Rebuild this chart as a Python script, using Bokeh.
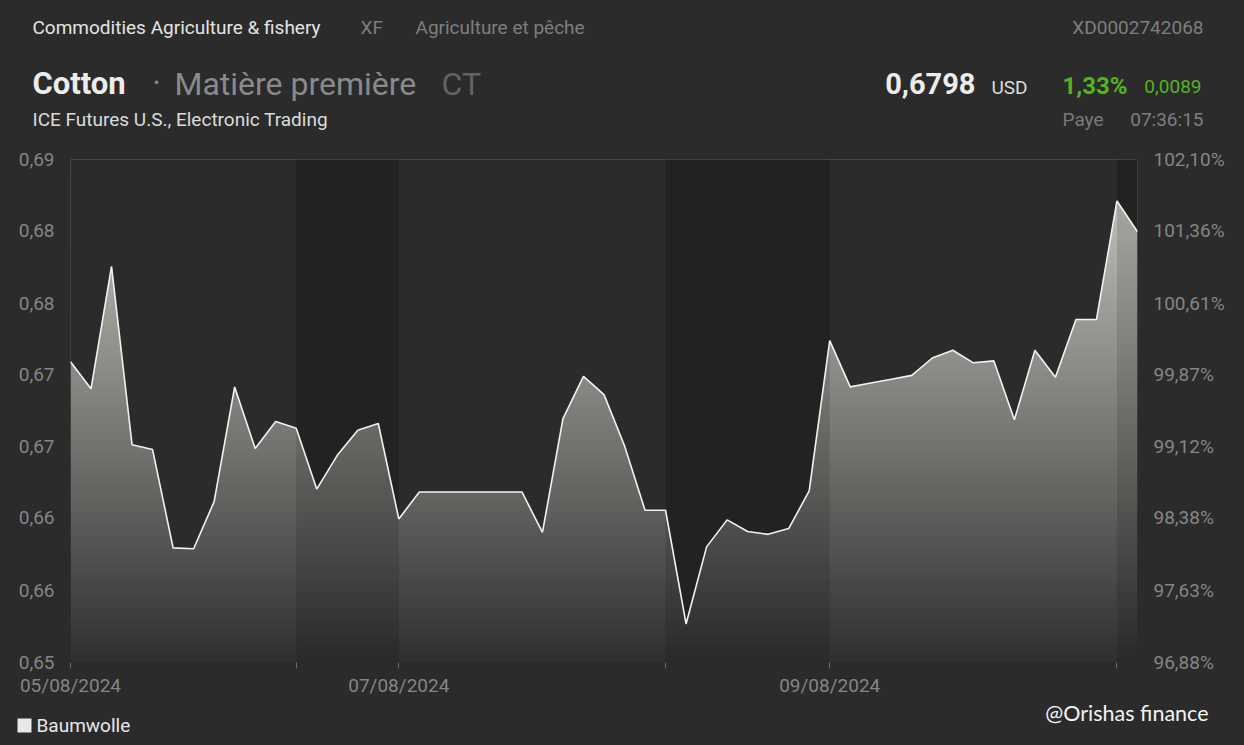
import numpy as np
from bokeh.plotting import figure
from bokeh.layouts import column
from bokeh.models import Range1d, LinearAxis, FixedTicker
from bokeh.core.properties import value
from bokeh.embed import file_html
from bokeh.resources import INLINE

# ---- data (performance in % of first quote) ----
pct = [100.00, 99.72, 100.99, 99.14, 99.09, 98.07, 98.06, 98.55, 99.74, 99.10,
       99.38, 99.31, 98.68, 99.03, 99.29, 99.36, 98.37, 98.65, 98.65, 98.65,
       98.65, 98.65, 98.65, 98.23, 99.41, 99.85, 99.66, 99.13, 98.46, 98.46,
       97.28, 98.08, 98.36, 98.24, 98.21, 98.27, 98.66, 100.22, 99.74, 99.78,
       99.82, 99.86, 100.04, 100.12, 99.99, 100.01, 99.40, 100.12, 99.84, 100.44,
       100.44, 101.67, 101.35]
xs = list(range(len(pct)))

date_tick_idx = [0, 11, 16, 29, 37, 51]
date_tick_labels = ["05/08/2024", "", "07/08/2024", "", "09/08/2024", ""]
dark_bands = [(11, 16), (29, 37), (51, 52)]

right_ticks = [96.88, 97.63, 98.38, 99.12, 99.87, 100.61, 101.36, 102.10]
right_labels = ["96,88%", "97,63%", "98,38%", "99,12%", "99,87%", "100,61%", "101,36%", "102,10%"]
left_labels = ["0,65", "0,66", "0,66", "0,67", "0,67", "0,68", "0,68", "0,69"]

BG = "#2b2b2b"
BAND = "#222222"
AXC = "#858585"
GREEN = "#52b51f"
FONT = "Roboto"
W = 1244

ymin, ymax = right_ticks[0], right_ticks[-1]
xmax = len(pct) - 1

# ---------------- main chart ----------------
p = figure(width=W, height=560, x_range=Range1d(0, xmax), y_range=Range1d(ymin, ymax),
           output_backend="svg", toolbar_location=None,
           min_border_left=70, min_border_right=107, min_border_top=19, min_border_bottom=38,
           y_axis_location=None)
p.background_fill_color = BG
p.border_fill_color = BG
p.outline_line_color = None
p.xgrid.visible = False
p.ygrid.visible = False
p.frame_align = False

n = 256
t = np.linspace(0, 1, n)  # 0 bottom -> 1 top
r = (48 + t * (204 - 48)).astype(np.uint32)
g = (48 + t * (204 - 48)).astype(np.uint32)
b = (48 + t * (197 - 48)).astype(np.uint32)
img = (np.uint32(255) << np.uint32(24)) | (b << np.uint32(16)) | (g << np.uint32(8)) | r
img = img.reshape(n, 1).astype(np.uint32)
p.image_rgba(image=[img], x=0, y=ymin, dw=xmax, dh=ymax - ymin)

# mask above the curve (whole width), then darker session bands
p.varea(x=xs, y1=pct, y2=[ymax] * len(xs), fill_color=BG)
for a, bnd in dark_bands:
    seg_x = xs[a:bnd + 1]
    seg_y = pct[a:bnd + 1]
    p.varea(x=seg_x, y1=[ymin] * len(seg_x), y2=seg_y, fill_color="black", fill_alpha=0.12)
    p.varea(x=seg_x, y1=seg_y, y2=[ymax] * len(seg_x), fill_color=BAND)

p.line(xs, pct, line_color="#f2f2f2", line_width=1.6)

xa = p.xaxis[0]
xa.ticker = FixedTicker(ticks=date_tick_idx)
xa.major_label_overrides = dict(zip(date_tick_idx, date_tick_labels))
xa.axis_line_color = None
xa.major_tick_line_color = "#6a6a6a"
xa.major_tick_out = 6
xa.major_tick_in = 0
xa.minor_tick_line_color = None
xa.major_label_text_color = AXC
xa.major_label_text_font = FONT
xa.major_label_text_font_size = "19px"
xa.major_label_standoff = 5

for side, labels in (("left", left_labels), ("right", right_labels)):
    ax = LinearAxis(ticker=FixedTicker(ticks=right_ticks))
    ax.major_label_overrides = dict(zip(right_ticks, labels))
    ax.axis_line_color = None
    ax.major_tick_line_color = None
    ax.minor_tick_line_color = None
    ax.major_label_text_color = AXC
    ax.major_label_text_font = FONT
    ax.major_label_text_font_size = "19px"
    ax.major_label_standoff = 10
    p.add_layout(ax, side)


# ---------------- header & footer (text strips) ----------------
def strip(h):
    f = figure(width=W, height=h, x_range=Range1d(0, W), y_range=Range1d(h, 0),
               output_backend="svg", toolbar_location=None, min_border=0,
               x_axis_location=None, y_axis_location=None)
    f.background_fill_color = BG
    f.border_fill_color = BG
    f.outline_line_color = None
    f.xgrid.visible = False
    f.ygrid.visible = False
    f.frame_align = False
    return f


def txt(f, s, x, y, size, color, align="left", style="normal", font=FONT):
    f.text(x=[x], y=[y], text=[s], text_font=value(font), text_font_size=size,
           text_color=color, text_align=align, text_baseline="middle", text_font_style=style)


hdr = strip(140)
txt(hdr, "Commodities Agriculture & fishery", 32, 27, "19px", "#e4e4e4")
txt(hdr, "XF", 360, 27, "19px", "#7e7e7e")
txt(hdr, "Agriculture et pêche", 415, 27, "19px", "#7e7e7e")
txt(hdr, "XD0002742068", 1203, 27, "19px", "#7e7e7e", align="right")
txt(hdr, "Cotton", 32, 83, "31px", "#ececec", style="bold")
txt(hdr, "·", 152, 83, "31px", "#8a8a8a")
txt(hdr, "Matière première", 174, 83, "32px", "#8a8a8a")
txt(hdr, "CT", 441, 83, "32px", "#636363")
txt(hdr, "0,6798", 975, 83, "29px", "#ececec", align="right", style="bold")
txt(hdr, "USD", 991, 87, "19px", "#dcdcdc")
txt(hdr, "1,33%", 1062, 85, "24px", GREEN, style="bold")
txt(hdr, "0,0089", 1201, 86, "19px", GREEN, align="right")
txt(hdr, "ICE Futures U.S., Electronic Trading", 32, 119, "19px", "#dcdcdc")
txt(hdr, "Paye", 1062, 119, "19px", "#7a7a7a")
txt(hdr, "07:36:15", 1203, 119, "19px", "#7e7e7e", align="right")

FTOP = 700
ftr = strip(45)
ftr.scatter(x=[24], y=[725 - FTOP], marker="square", size=14, fill_color="#e8e8e8", line_color=None)
txt(ftr, "Baumwolle", 36, 725 - FTOP, "19px", "#e8e8e8")
txt(ftr, "@Orishas finance", 1208, 712 - FTOP, "21.5px", "#f4f4f4", align="right", font="Lato")

page = column(hdr, p, ftr, spacing=0)
html = file_html(page, INLINE)
html = html.replace("</head>", "<style>html,body{margin:0;padding:0;background:#2b2b2b;overflow:hidden;}</style></head>")
open("out.html", "w").write(html)
